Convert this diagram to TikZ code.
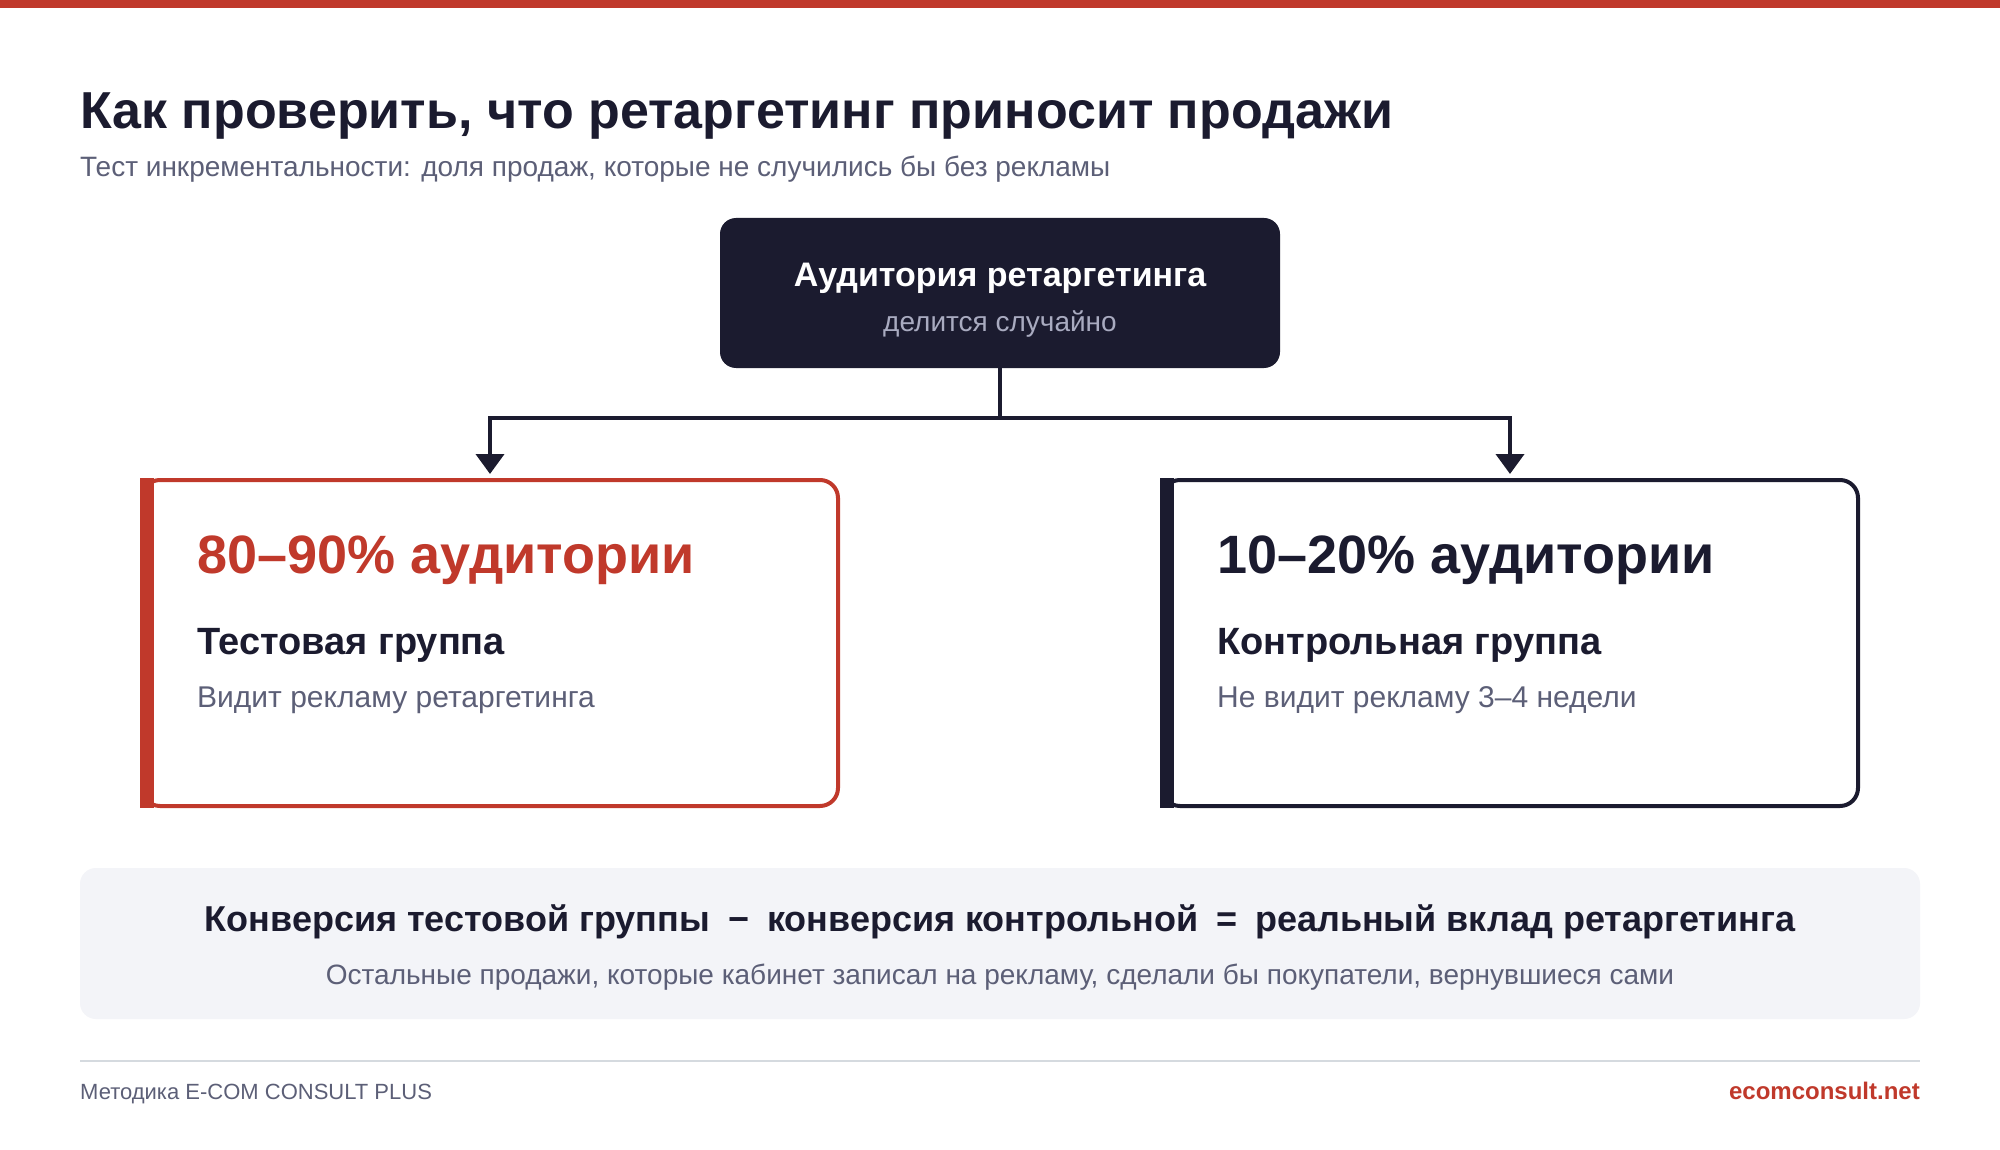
\documentclass[tikz,border=0pt]{standalone}
\usepackage{fontspec}
\setmainfont{Liberation Sans}
\usetikzlibrary{positioning, arrows.meta}
\definecolor{brand}{HTML}{C0392B}
\definecolor{ink}{HTML}{1B1B2F}
\definecolor{muted}{HTML}{5C5F77}
\definecolor{soft}{HTML}{A9ABC0}
\definecolor{panel}{HTML}{F3F4F8}
\definecolor{rulegray}{HTML}{D5DADF}
\newcommand{\fs}[1]{\fontsize{#1}{#1}\selectfont}

\begin{document}
\begin{tikzpicture}[x=1pt, y=-1pt,
    txt/.style={inner sep=0pt, anchor=base west},
    ctr/.style={inner sep=0pt, anchor=base},
    group/.style={draw=#1, line width=4pt, rounded corners=18pt, fill=white,
        minimum width=696pt, minimum height=326pt, inner sep=0pt},
    link/.style={draw=ink, line width=4pt},
    tip/.style={-{Triangle[width=28pt,length=20pt]}, shorten >=4pt}
]
\useasboundingbox (0,0) rectangle (2000,1150);
\fill[white] (0,0) rectangle (2000,1150);
\fill[brand] (0,0) rectangle (2000,8);

% heading
\node[txt, text=ink] (title) at (80,129) {\fs{52}\bfseries Как проверить, что ретаргетинг приносит продажи};
\node[txt, text=muted] (sub) at (80,177) {\fs{28}Тест инкрементальности: доля продаж, которые не случились бы без рекламы};

% audience split
\node[fill=ink, rounded corners=16pt, minimum width=560pt, minimum height=150pt] (aud) at (1000,293) {};
\node[ctr, text=white] (audname) at (1000,287) {\fs{34}\bfseries Аудитория ретаргетинга};
\node[ctr, text=soft] (audnote) at (1000,331) {\fs{28}делится случайно};

\node[group=brand] (lbox) at (490,643) {};
\node[group=ink] (rbox) at (1510,643) {};
\fill[brand] (lbox.north west) rectangle ++(14,330);
\fill[ink] (rbox.north west) rectangle ++(14,330);

\coordinate (split) at (1000,418);
\draw[link] (aud.south) -- (split);
\draw[link, tip] (split) -| (lbox.north);
\draw[link, tip] (split) -| (rbox.north);

\node[txt, text=brand] (lpct) at (197,573) {\fs{54}\bfseries 80–90\% аудитории};
\node[txt, text=ink] (lname) at (197,654) {\fs{38}\bfseries Тестовая группа};
\node[txt, text=muted] (ldesc) at (197,707) {\fs{30}Видит рекламу ретаргетинга};

\node[txt, text=ink] (rpct) at (1217,573) {\fs{54}\bfseries 10–20\% аудитории};
\node[txt, text=ink] (rname) at (1217,654) {\fs{38}\bfseries Контрольная группа};
\node[txt, text=muted] (rdesc) at (1217,707) {\fs{30}Не видит рекламу 3–4 недели};

% result
\node[fill=panel, rounded corners=16pt, minimum width=1840pt, minimum height=151pt] (calc) at (1000,943.5) {};
\node[ctr, text=ink] (formula) at (1000,931) {\fs{36}\bfseries Конверсия тестовой группы\hspace{18pt}−\hspace{18pt}конверсия контрольной\hspace{18pt}=\hspace{18pt}реальный вклад ретаргетинга};
\node[ctr, text=muted] (rest) at (1000,984) {\fs{28}Остальные продажи, которые кабинет записал на рекламу, сделали бы покупатели, вернувшиеся сами};

% footer
\draw[rulegray, line width=2pt] (80,1061) -- (1920,1061);
\node[txt, text=muted] (method) at (80,1099) {\fs{22}Методика E-COM CONSULT PLUS};
\node[inner sep=0pt, anchor=base east, text=brand] (site) at (1920,1099) {\fs{24}\bfseries ecomconsult.net};
\end{tikzpicture}
\end{document}
